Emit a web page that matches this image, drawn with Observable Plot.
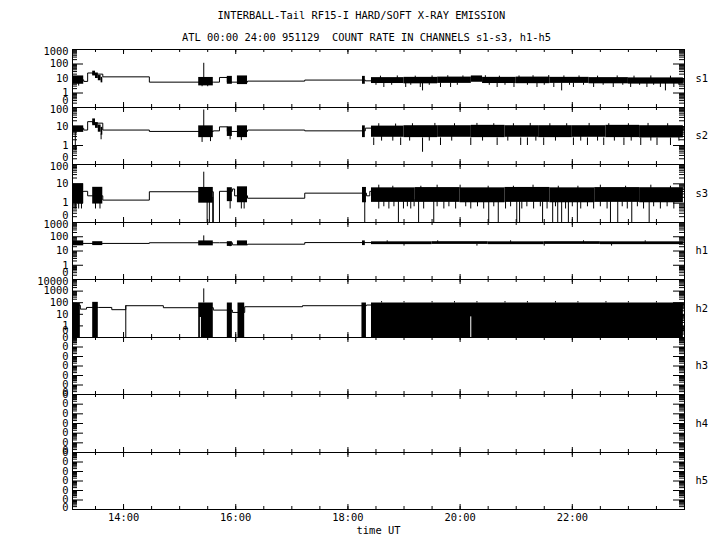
<!DOCTYPE html>
<html><head><meta charset="utf-8">
<script src="https://cdn.jsdelivr.net/npm/d3@7"></script>
<script src="https://cdn.jsdelivr.net/npm/@observablehq/plot@0.6"></script>
<style>
body{margin:0;background:#fff;}
#root{position:relative;width:720px;height:550px;overflow:hidden;font-family:"DejaVu Sans Mono",monospace;background:#fff;}
.t{position:absolute;font-size:10.4px;white-space:pre;transform:translateX(-50%);line-height:10.4px;color:#000;}
.p{position:absolute;left:0;}
</style></head><body><div id="root"></div>
<script>
// ---------- data (decimal hours UT, count rates) ----------
const titleText = "INTERBALL-Tail RF15-I HARD/SOFT X-RAY EMISSION";
const subtitleText = "ATL 00:00 24:00 951129  COUNT RATE IN CHANNELS s1-s3, h1-h5";
const xLabel = "time UT";
const channels = ["s1","s2","s3","h1","h2","h3","h4","h5"];
const yLow  = [0.1, 0.1, 0.1, 0.1, 0.1, 1e-7, 1e-7, 1e-7];
const yHigh = [1000, 100, 100, 1000, 10000, 0.1, 0.1, 0.1];
const timeStart = 13.09, timeEnd = 24;
const hourTicks = [14, 16, 18, 20, 22];
const hourLabels = ["14:00","16:00","18:00","20:00","22:00"];
const halfHourTicks = [13.5,14,14.5,15,15.5,16,16.5,17,17.5,18,18.5,19,19.5,20,20.5,21,21.5,22,22.5,23,23.5];

// step line [t, value]
const s1Line = [[13.10,8],[13.29,6.3],[13.36,24],[13.45,20],[13.63,13],[14.46,5.6],[15.60,5.6],[15.71,11.8],[15.85,5.6],[16.21,6.6],[17.23,7.8],[18.31,6.9],[18.42,6.9]];
// noisy bands [t0, t1, low, high]
const s1Bands = [[13.10,13.29,4,15],[13.45,13.50,15,32],[13.50,13.55,10,24],[13.55,13.60,7,16],[13.60,13.63,5,12],[15.34,15.60,3.1,11.8],[15.85,15.94,4,14],[16.03,16.21,3.8,15],[18.26,18.31,4,14],
  [18.42,19.00,4.5,11.5],[19.00,19.60,4.3,12],[19.60,20.20,4.6,12.5],[20.20,20.40,5.5,15],[20.40,21.00,4.5,12],[21.00,21.60,4.4,12.5],[21.60,22.30,4.6,12],[22.30,23.00,4.3,11.5],[23.00,23.98,4.1,11]];
// spikes [t, low, high]
const s1Spikes = [[15.43,11,112],[15.40,2.7,5],[15.50,2.7,5],[13.20,3,6],[19.33,1.4,5],[21.81,1.4,5],[23.66,1.4,5],
  [18.64,2.4,5],[19.03,2.4,5],[19.29,2.4,5],[19.65,2.4,5],[19.83,2.4,5],[20.66,2.4,5],[20.96,2.4,5],[21.37,2.4,5],[21.67,2.4,5],[22.02,2.4,5],[22.38,2.4,5],[22.73,2.4,5],[23.04,2.4,5],[23.33,2.4,5],[23.57,2.4,5],[23.81,2.4,5],
  [18.50,3.4,5],[18.78,3.4,5],[19.12,3.4,5],[19.45,3.4,5],[19.95,3.4,5],[20.52,3.4,5],[20.80,3.4,5],[21.20,3.4,5],[21.50,3.4,5],[21.95,3.4,5],[22.20,3.4,5],[22.55,3.4,5],[22.90,3.4,5],[23.20,3.4,5],[23.45,3.4,5],[23.90,3.4,5],
  [18.58,10,14.5],[18.88,10,15],[19.20,10,14.5],[19.50,10,15],[19.78,10,15.5],[20.05,10,15],[20.45,10,15.5],[20.70,10,14.5],[21.05,10,15],[21.30,10,15.5],[21.58,10,16],[21.85,10,15],[22.12,10,15],[22.45,10,14.5],[22.80,10,15],[23.10,10,14.5],[23.40,10,15],[23.75,10,14.5]];

const s2Line = [[13.10,8],[13.29,6.5],[13.36,18],[13.45,15],[13.63,6.5],[14.46,5.5],[15.60,5.9],[15.71,9.6],[15.85,5.5],[16.21,6.5],[17.23,5.9],[18.31,8.2],[18.42,8.2]];
const s2Bands = [[13.10,13.29,4.9,10.8],[13.45,13.50,11,25],[13.50,13.55,8,16],[13.55,13.60,5,12],[13.60,13.63,3.5,9],[15.34,15.60,2.6,10.8],[15.85,15.94,3,9.6],[16.03,16.21,2.6,10.8],[18.26,18.31,2.6,10.8],
  [18.42,19.0,2.7,10.5],[19.0,19.6,2.6,11],[19.6,20.2,2.7,11],[20.2,20.8,2.6,11.5],[20.8,21.4,2.7,11],[21.4,22.0,2.6,11],[22.0,22.6,2.7,11],[22.6,23.2,2.6,11.5],[23.2,23.98,2.5,11]];
const s2Spikes = [[13.14,0.54,5],[13.60,2.0,4],[15.43,10,74],[15.40,1.45,3],[15.55,1.6,3],[15.90,2.0,3.5],[16.10,1.8,3],[19.33,0.44,2.5],
  [18.46,1.0,2.5],[18.94,1.0,2.5],[19.65,1.0,2.5],[20.19,1.0,2.5],[20.66,1.0,2.5],[21.08,1.0,2.5],[21.20,1.0,2.5],[21.49,1.0,2.5],[22.02,1.0,2.5],[22.27,1.0,2.5],[22.56,1.0,2.5],[22.92,1.0,2.5],[23.22,1.0,2.5],[23.51,1.0,2.5],[23.75,1.0,2.5],
  [18.60,1.7,3],[18.80,1.7,3],[19.10,1.7,3],[19.45,1.7,3],[19.85,1.7,3],[20.40,1.7,3],[20.85,1.7,3],[21.35,1.7,3],[21.70,1.7,3],[22.15,1.7,3],[22.45,1.7,3],[22.75,1.7,3],[23.05,1.7,3],[23.40,1.7,3],[23.90,1.7,3],
  [18.55,8,14],[18.85,8,13.5],[19.15,8,14],[19.55,8,14.5],[19.90,8,14],[20.30,8,14.5],[20.60,8,14],[20.95,8,14],[21.25,8,14.5],[21.60,8,14],[21.90,8,14],[22.30,8,14.5],[22.65,8,14],[23.00,8,14],[23.35,8,14.5],[23.70,8,14]];

const s3Line = [[13.10,4],[13.29,4.1],[13.36,2.4],[13.45,2.4],[13.63,1.44],[14.46,3.9],[15.60,0.1],[15.71,4.1],[15.85,4.1],[15.94,5.4],[15.98,2.4],[16.21,1.8],[17.23,3.3],[18.33,2.4],[18.39,4.1],[18.42,4.1]];
const s3Bands = [[13.10,13.29,0.93,10],[13.45,13.63,0.9,6.6],[15.34,15.60,1.0,6.5],[15.85,15.94,1.2,6.3],[16.03,16.21,1.05,7],[18.26,18.33,1.05,6.5],
  [18.42,19.2,1.1,6.2],[19.2,20.0,1.1,6.4],[20.0,20.8,1.05,6.2],[20.8,21.6,1.1,6.5],[21.6,22.4,1.05,6.2],[22.4,23.2,1.1,6.4],[23.2,23.98,1.05,6.3]];
const s3Spikes = [[15.43,6,40],[13.14,0.5,2],[13.20,0.5,2],[13.25,0.5,2],[13.50,0.5,2],[13.58,0.5,2],[15.49,0.1,2],[15.53,0.1,2],[15.59,0.1,2],[15.90,0.5,2],[16.10,0.5,2],[16.15,0.5,2],[18.30,0.1,2],
  [18.90,0.1,2],[19.26,0.1,2],[19.53,0.1,2],[20.51,0.1,2],[20.68,0.1,2],[21.01,0.1,2],[21.06,0.1,2],[21.47,0.1,2],[21.65,0.1,2],[21.74,0.1,2],[21.81,0.1,2],[21.93,0.1,2],[22.09,0.1,2],[22.68,0.1,2],[22.81,0.1,2],[23.06,0.1,2],[23.37,0.1,2],
  [18.55,0.5,1.5],[18.64,0.65,1.5],[18.73,0.5,1.5],[18.82,0.65,1.5],[18.99,0.5,1.5],[19.06,0.65,1.5],[19.12,0.5,1.5],[19.18,0.65,1.5],[19.35,0.5,1.5],[19.59,0.65,1.5],[19.71,0.5,1.5],[19.80,0.65,1.5],[19.92,0.5,1.5],[20.10,0.65,1.5],[20.19,0.5,1.5],[20.31,0.65,1.5],[20.42,0.5,1.5],[20.60,0.65,1.5],[20.81,0.5,1.5],[20.90,0.65,1.5],[21.10,0.5,1.5],[21.19,0.65,1.5],[21.31,0.5,1.5],[21.43,0.65,1.5],[21.55,0.5,1.5],[21.70,0.65,1.5],[21.88,0.5,1.5],[22.00,0.65,1.5],[22.15,0.5,1.5],[22.27,0.65,1.5],[22.38,0.5,1.5],[22.50,0.65,1.5],[22.62,0.5,1.5],[22.89,0.65,1.5],[22.98,0.5,1.5],[23.16,0.65,1.5],[23.27,0.5,1.5],[23.45,0.65,1.5],[23.57,0.5,1.5],[23.69,0.65,1.5],[23.81,0.5,1.5],
  [18.55,5,8.5],[19.59,5,8.5],[20.00,5,8.5],[21.30,5,8.5],[22.50,5,8.5],[23.40,5,8.5],[18.80,5,7.5],[19.30,5,7.5],[20.50,5,7.5],[20.95,5,7.5],[21.75,5,7.5],[22.10,5,7.5],[22.95,5,7.5],[23.75,5,7.5]];

const h1Line = [[13.10,34],[14.46,38],[15.71,38],[15.94,27],[16.21,30],[17.23,39],[18.42,39]];
const h1Bands = [[13.10,13.29,23,51],[13.45,13.63,24,45],[15.34,15.60,23,51],[15.85,15.94,21,45],[16.03,16.21,24,51],[18.26,18.31,24,51],
  [18.42,19.5,28,44],[19.5,20.5,29,45],[20.5,21.5,28,44],[21.5,22.5,29,45],[22.5,23.98,28,44]];
const h1Spikes = [[15.43,40,115],[15.90,20,30],[19.0,22,30],[20.3,22,30],[21.5,22,30],[22.7,22,30],[18.7,40,52],[19.6,40,52],[20.9,40,52],[22.2,40,52],[23.3,40,52]];

const h2Line = [[13.10,60],[13.23,28],[13.34,39],[13.55,39],[13.79,25],[14.04,55],[14.71,37],[15.60,23],[15.94,14.5],[16.16,45],[17.19,55],[18.33,63],[18.42,63]];
const h2Bands = [[13.09,13.23,0.1,87],[13.45,13.55,0.1,107],[15.34,15.60,0.1,94],[15.85,15.94,0.1,94],[16.04,16.16,0.1,94],[18.25,18.33,0.1,94],[18.42,23.98,0.1,94]];
const h2Spikes = [[14.04,0.1,55],[15.43,94,1550],[18.6,94,125],[19.0,94,125],[19.5,94,125],[19.9,94,125],[20.3,94,125],[20.8,94,125],[21.2,94,125],[21.7,94,125],[22.1,94,125],[22.6,94,125],[23.0,94,125],[23.5,94,125]];
const h2Gaps = [[15.37,0.1,5.3],[20.19,0.1,6]];

const lines  = [s1Line, s2Line, s3Line, h1Line, h2Line, [], [], []];
const bands  = [s1Bands, s2Bands, s3Bands, h1Bands, h2Bands, [], [], []];
const spikes = [s1Spikes, s2Spikes, s3Spikes, h1Spikes, h2Spikes, [], [], []];
const gaps   = [[], [], [], [], h2Gaps, [], [], []];

// ---------- layout ----------
const root = document.getElementById("root");
const font = "DejaVu Sans Mono";
const fs = 10.4;
function addText(txt, cx, top) {
  const d = document.createElement("div");
  d.className = "t"; d.textContent = txt;
  d.style.left = cx + "px"; d.style.top = top + "px";
  root.appendChild(d);
}
addText(titleText, 361.5, 10);
addText(subtitleText, 366.5, 32);

const W = 720, ML = 72, MR = 36, PW = W - ML - MR;
const top0 = 49, ph = 57.5;
const isDecade = d => Math.abs(Math.log10(d) - Math.round(Math.log10(d))) < 1e-6;
const fmt = d => String(Math.round(d));

channels.forEach((name, i) => {
  const yTop = Math.round(top0 + i * ph);
  const H = Math.round(top0 + (i + 1) * ph) - yTop;
  const last = i === channels.length - 1;
  const mb = last ? 30 : 0;
  const dom = [yLow[i], yHigh[i]];
  const allTicks = d3.scaleLog().domain(dom).ticks();
  const majors = allTicks.filter(isDecade);
  const minors = allTicks.filter(d => !isDecade(d));
  const topLab = majors.filter(d => Math.abs(d - yHigh[i]) / yHigh[i] < 1e-6);
  const botLab = majors.filter(d => Math.abs(d - yLow[i]) / yLow[i] < 1e-6);
  const midLab = majors.filter(d => !topLab.includes(d) && !botLab.includes(d));
  const isH = i >= 5;
  const tOpt = {fontFamily: font, fontSize: fs, fill: "black"};
  const marks = [
    Plot.rect(bands[i], {x1: d => d[0], x2: d => d[1], y1: d => d[2], y2: d => d[3], fill: "black"}),
    Plot.ruleX(spikes[i], {x: d => d[0], y1: d => d[1], y2: d => d[2], stroke: "black", strokeWidth: 1}),
    Plot.ruleX(gaps[i], {x: d => d[0], y1: d => d[1], y2: d => d[2], stroke: "white", strokeWidth: 1}),
    Plot.line(lines[i], {x: d => d[0], y: d => d[1], curve: "step-after", stroke: "black", strokeWidth: 1}),
    // x ticks, inward from top and bottom
    Plot.ruleX(halfHourTicks, {x: d => d, insetTop: H - 3, stroke: "black"}),
    Plot.ruleX(halfHourTicks, {x: d => d, insetBottom: H - 3, stroke: "black"}),
    Plot.ruleX(hourTicks, {x: d => d, insetTop: H - 5, stroke: "black"}),
    Plot.ruleX(hourTicks, {x: d => d, insetBottom: H - 5, stroke: "black"}),
    // y ticks, inward from left and right
    Plot.ruleY(majors, {y: d => d, insetRight: PW - 11, stroke: "black"}),
    Plot.ruleY(majors, {y: d => d, insetLeft: PW - 11, stroke: "black"}),
    Plot.ruleY(minors, {y: d => d, insetRight: PW - 5, stroke: "black"}),
    Plot.ruleY(minors, {y: d => d, insetLeft: PW - 5, stroke: "black"}),
    Plot.frame({stroke: "black"}),
    // y labels
    Plot.text(midLab, {y: d => d, text: fmt, frameAnchor: "left", textAnchor: "end", dx: -4, ...tOpt}),
    Plot.text(topLab, {y: d => d, text: fmt, frameAnchor: "left", textAnchor: "end", dx: -4, dy: isH ? 0 : 2, ...tOpt}),
    Plot.text(botLab, {y: d => d, text: fmt, frameAnchor: "left", textAnchor: "end", dx: -4, dy: isH ? -2 : -7, ...tOpt}),
    // channel name
    Plot.text([name], {text: d => d, frameAnchor: "right", textAnchor: "start", dx: 11, ...tOpt})
  ];
  if (last) {
    marks.push(Plot.text(hourTicks, {x: d => d, text: (d, k) => hourLabels[k], frameAnchor: "bottom", dy: 11, ...tOpt}));
    marks.push(Plot.text([xLabel], {text: d => d, frameAnchor: "bottom", dy: 24, ...tOpt}));
  }
  const chart = Plot.plot({
    width: W, height: H + mb,
    marginLeft: ML, marginRight: MR, marginTop: 0, marginBottom: mb,
    x: {domain: [timeStart, timeEnd], axis: null},
    y: {type: "log", domain: dom, axis: null},
    style: {background: "transparent", overflow: "visible", fontFamily: font, fontSize: fs + "px"},
    marks
  });
  chart.classList.add("p");
  chart.style.top = yTop + "px";
  root.appendChild(chart);
});
</script></body></html>
